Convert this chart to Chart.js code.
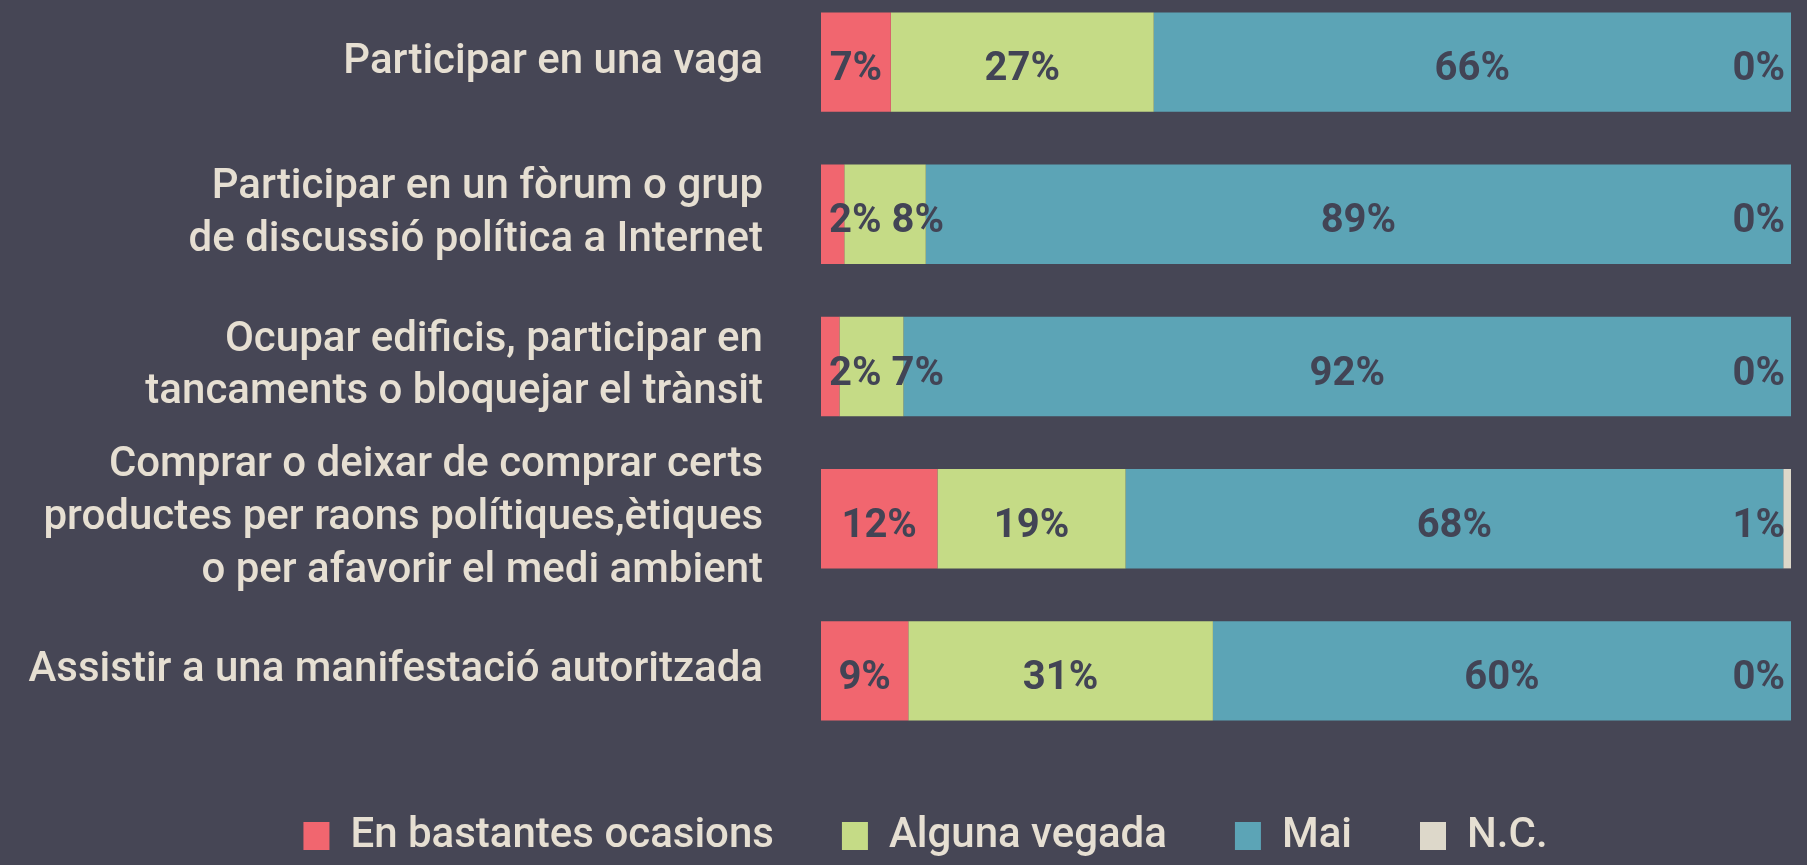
<!DOCTYPE html>
<html>
<head>
<meta charset="utf-8">
<script src="https://cdn.jsdelivr.net/npm/chart.js@4"></script>
<style>
  html, body { margin: 0; padding: 0; background: #464655; overflow: hidden; }
  #wrap { position: absolute; left: 0; top: -14px; width: 1807px; height: 881px; }
</style>
</head>
<body>
<div id="wrap"><canvas id="chart"></canvas></div>
<script>
const categories = [
  ["Participar en una vaga"],
  ["Participar en un fòrum o grup", "de discussió política a Internet"],
  ["Ocupar edificis, participar en", "tancaments o bloquejar el trànsit"],
  ["Comprar o deixar de comprar certs", "productes per raons polítiques,ètiques", "o per afavorir el medi ambient"],
  ["Assistir a una manifestació autoritzada"]
];
const seriesNames = ["En bastantes ocasions", "Alguna vegada", "Mai", "N.C."];
const bastantes = [7.2, 2.4, 1.9, 12.0, 9.0];
const alguna = [27.1, 8.4, 6.6, 19.4, 31.4];
const mai = [65.7, 89.2, 91.5, 67.8, 59.6];
const nc = [0, 0, 0, 0.8, 0];
const colors = ["#f1666f", "#c5db86", "#5ca4b6", "#ddd8ca"];

const textColor = "#e6dfd2";
const labelColor = "#424455";

/* labels inside the stacked segments, pushed apart when they collide */
const segmentLabels = {
  id: "segmentLabels",
  afterDatasetsDraw(chart) {
    const ctx = chart.ctx;
    const area = chart.chartArea;
    ctx.save();
    ctx.font = "bold 40px Roboto";
    ctx.fillStyle = labelColor;
    ctx.textBaseline = "middle";
    ctx.textAlign = "left";
    categories.forEach((c, j) => {
      let lastRight = -Infinity;
      chart.data.datasets.forEach((ds, i) => {
        const el = chart.getDatasetMeta(i).data[j];
        const p = el.getProps(["x", "base", "y"], true);
        const text = Math.round(ds.data[j]) + "%";
        const w = ctx.measureText(text).width;
        let left = (p.x + p.base) / 2 - w / 2;
        left = Math.max(left, area.left + 8, lastRight + 10);
        left = Math.min(left, area.right - 6 - w);
        ctx.fillText(text, left, p.y + 8);
        lastRight = left + w;
      });
    });
    ctx.restore();
  }
};

/* legend sits a bit right of the page centre in the original */
const legendShift = {
  id: "legendShift",
  afterLayout(chart) {
    chart.legend.left += 30;
    chart.legend.right += 30;
  }
};

const series = [bastantes, alguna, mai, nc];

new Chart(document.getElementById("chart"), {
  type: "bar",
  data: {
    labels: categories,
    datasets: series.map((d, i) => ({
      label: seriesNames[i],
      data: d,
      backgroundColor: colors[i],
      borderWidth: 0,
      categoryPercentage: 1,
      barPercentage: 0.653
    }))
  },
  options: {
    indexAxis: "y",
    responsive: true,
    maintainAspectRatio: false,
    animation: false,
    layout: { padding: { left: 0, right: 16, top: 0, bottom: 0 } },
    scales: {
      x: { stacked: true, min: 0, max: 100, display: false },
      y: {
        stacked: true,
        grid: { display: false, drawTicks: false },
        border: { display: false },
        ticks: {
          autoSkip: false,
          color: textColor,
          padding: 58,
          font: { family: "Roboto", size: 42, weight: "500", lineHeight: 1.26 }
        },
        afterFit(scale) {
          scale.width = 821;
          scale.paddingTop = 0;
          scale.paddingBottom = 0;
        }
      }
    },
    plugins: {
      tooltip: { enabled: false },
      legend: {
        position: "bottom",
        labels: {
          color: textColor,
          boxWidth: 26,
          boxHeight: 28,
          padding: 68,
          font: { family: "Roboto", size: 42, weight: "500" }
        }
      }
    }
  },
  plugins: [segmentLabels, legendShift]
});
</script>
</body>
</html>
